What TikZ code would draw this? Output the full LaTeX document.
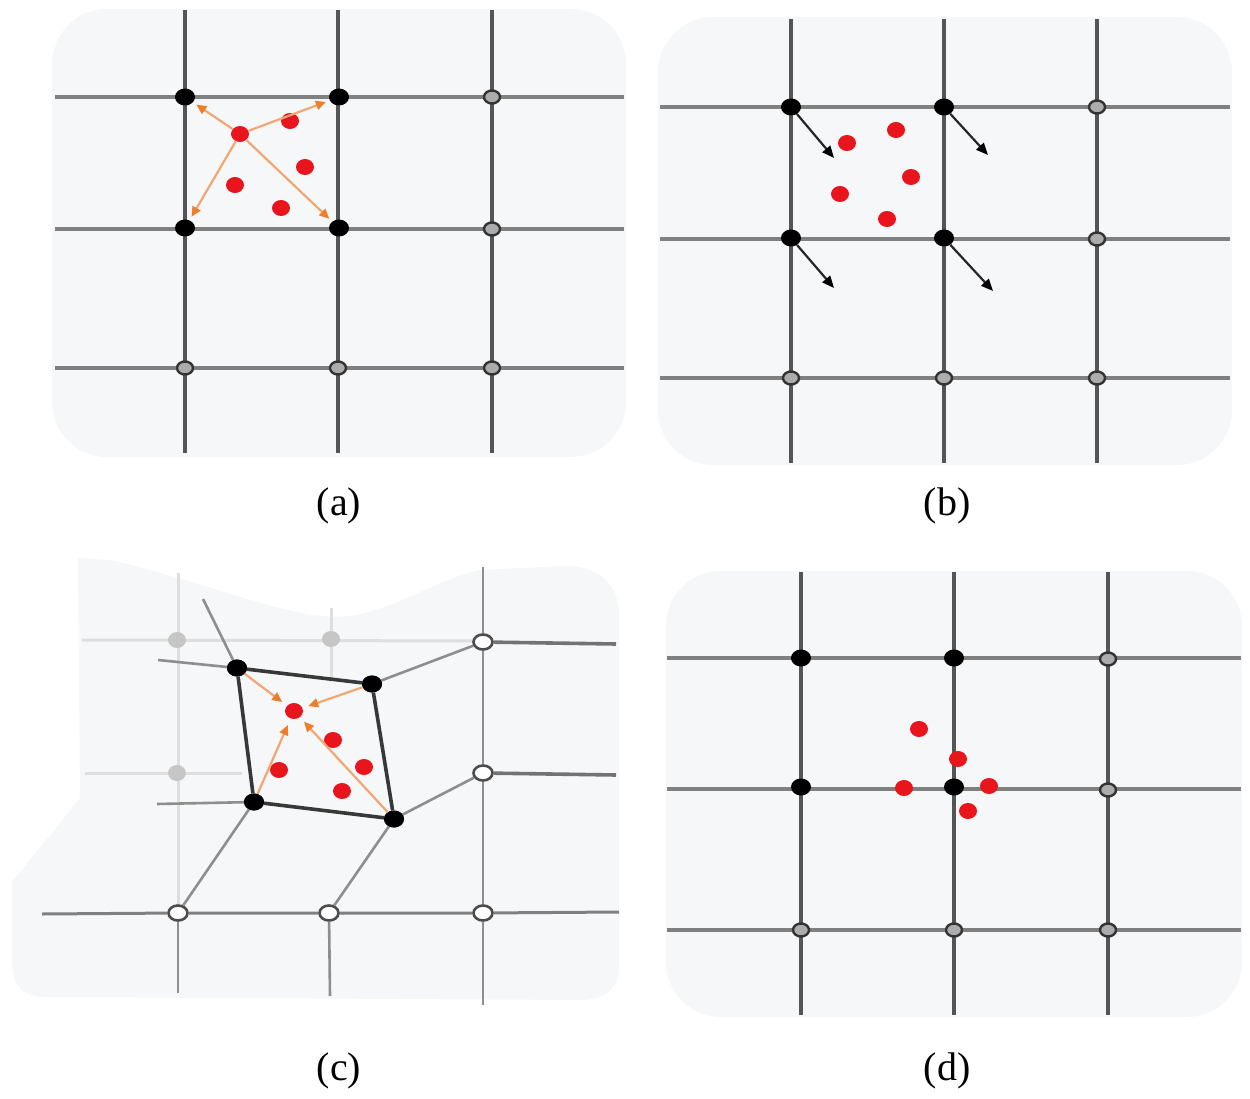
\documentclass[tikz,border=0pt]{standalone}
\usepackage{fontspec}
\setmainfont{Liberation Serif}
\usetikzlibrary{arrows.meta,shapes.geometric}
\definecolor{bgc}{HTML}{F6F7F8}
\definecolor{vgray}{HTML}{555555}
\definecolor{hgray}{HTML}{808080}
\definecolor{dotred}{HTML}{E8161C}
\definecolor{orline}{HTML}{F2A672}
\definecolor{ortip}{HTML}{EE7F2A}
\definecolor{faint}{HTML}{DEDEDE}
\definecolor{faintdot}{HTML}{C6C6C6}
\definecolor{cgray}{HTML}{8E8E8E}
\begin{document}
\begin{tikzpicture}[x=1pt,y=-1pt,
  panelbg/.style={fill=bgc,rounded corners=55pt},
  vline/.style={draw=vgray,line width=3.6pt},
  hline/.style={draw=hgray,line width=3.2pt},
  blk/.style={ellipse,fill=black,minimum width=20pt,minimum height=17pt,inner sep=0pt},
  opn/.style={ellipse,fill=gray!65,draw=black!80,line width=2.4pt,minimum width=16pt,minimum height=13pt,inner sep=0pt},
  opnw/.style={ellipse,fill=white,draw=black!70,line width=2.6pt,minimum width=19pt,minimum height=15pt,inner sep=0pt},
  reddot/.style={ellipse,fill=dotred,minimum width=18pt,minimum height=16pt,inner sep=0pt},
  fdot/.style={ellipse,fill=faintdot,minimum width=18pt,minimum height=16pt,inner sep=0pt},
  orarrow/.style={draw=orline,line width=2.2pt,-{Triangle[length=10pt,width=9pt,color=ortip]}},
  bkarrow/.style={draw=black!85,line width=2.2pt,-{Triangle[length=12pt,width=10pt,color=black]}},
  fline/.style={draw=faint,line width=3pt},
  cline/.style={draw=cgray,line width=2.6pt},
  quad/.style={draw=black!78,line width=3.6pt},
  lab/.style={inner sep=0pt,font=\fontsize{40}{48}\selectfont}
]
\useasboundingbox (0,0) rectangle (1250,1099);

% ---------- backgrounds ----------
\fill[panelbg] (52,9) rectangle (626,457);
\fill[panelbg] (658,17) rectangle (1232,465);
\fill[panelbg] (666,571) rectangle (1242,1017);
\fill[bgc] (78,558) -- (110,560) .. controls (220,585) and (300,625) .. (355,615)
  .. controls (400,607) and (440,578) .. (480,570) -- (565,566)
  .. controls (600,566) and (619,585) .. (619,615) -- (619,965)
  .. controls (619,990) and (605,1000) .. (580,1000) -- (45,997)
  .. controls (22,997) and (12,985) .. (12,960) -- (12,882) -- (80,798) -- cycle;

% ================= panel (a) =================
\foreach \x in {185,338,492} \draw[vline] (\x,10) -- (\x,453);
\foreach \y in {97,229,368} \draw[hline] (55,\y) -- (624,\y);
\node[blk] (a11) at (185,97) {};
\node[blk] (a12) at (339,97) {};
\node[blk] (a21) at (185,228) {};
\node[blk] (a22) at (339,228) {};
\node[opn] (a13) at (492,97) {};
\node[opn] (a23) at (492,229) {};
\node[opn] (a31) at (185,368) {};
\node[opn] (a32) at (338,368) {};
\node[opn] (a33) at (492,368) {};
\node[reddot] (ac) at (240,134) {};
\node[reddot] (ar1) at (290,121) {};
\node[reddot] (ar2) at (305,167) {};
\node[reddot] (ar3) at (235,185) {};
\node[reddot] (ar4) at (281,208) {};
\draw[orarrow,shorten >=4pt] (ac) -- (a11);
\draw[orarrow,shorten >=4pt] (ac) -- (a12);
\draw[orarrow,shorten >=4pt] (ac) -- (a21);
\draw[orarrow,shorten >=4pt] (ac) -- (a22);
\node[lab] (la) at (339,506) {(a)};

% ================= panel (b) =================
\foreach \x in {791,944,1097} \draw[vline] (\x,19) -- (\x,463);
\foreach \y in {107,239,378} \draw[hline] (660,\y) -- (1230,\y);
\node[blk] (b11) at (791,107) {};
\node[blk] (b12) at (944,107) {};
\node[blk] (b21) at (791,238) {};
\node[blk] (b22) at (944,238) {};
\node[opn] (b13) at (1097,107) {};
\node[opn] (b23) at (1097,239) {};
\node[opn] (b31) at (791,378) {};
\node[opn] (b32) at (944,378) {};
\node[opn] (b33) at (1097,378) {};
\node[reddot] (br1) at (847,143) {};
\node[reddot] (br2) at (896,130) {};
\node[reddot] (br3) at (911,177) {};
\node[reddot] (br4) at (840,194) {};
\node[reddot] (br5) at (887,219) {};
\coordinate (bt11) at (834,158);
\coordinate (bt12) at (988,155);
\coordinate (bt21) at (834,288);
\coordinate (bt22) at (993,291);
\draw[bkarrow] (b11) -- (bt11);
\draw[bkarrow] (b12) -- (bt12);
\draw[bkarrow] (b21) -- (bt21);
\draw[bkarrow] (b22) -- (bt22);
\node[lab] (lb) at (947,506) {(b)};

% ================= panel (c) =================
% faint original grid
\draw[fline] (82,640) -- (483,641);
\draw[fline] (85,773) -- (242,773);
\draw[fline] (178,573) -- (178,913);
\draw[fline] (331,608) -- (331,678);
\node[fdot] (cf1) at (177,640) {};
\node[fdot] (cf2) at (331,639) {};
\node[fdot] (cf3) at (177,773) {};
% deformed mesh
\node[blk] (c11) at (237,668) {};
\node[blk] (c12) at (372,684) {};
\node[blk] (c21) at (254,802) {};
\node[blk] (c22) at (394,819) {};
\node[opnw] (c13) at (483,642) {};
\node[opnw] (c23) at (483,773) {};
\node[opnw] (c31) at (178,913) {};
\node[opnw] (c32) at (329,913) {};
\node[opnw] (c33) at (483,913) {};
\coordinate (ce1) at (203,599);
\coordinate (ce2) at (158,660);
\coordinate (ce3) at (157,804);
\coordinate (ce4) at (616,644);
\coordinate (ce5) at (616,775);
\coordinate (ce6) at (42,914);
\coordinate (ce7) at (619,912);
\coordinate (ce8) at (483,567);
\coordinate (ce9) at (483,1005);
\coordinate (ce10) at (178,993);
\coordinate (ce11) at (330,996);
\draw[cline] (ce8) -- (c13) -- (c23) -- (c33) -- (ce9);
\draw[cline] (c31) -- (ce10);
\draw[cline] (c32) -- (ce11);
\draw[draw=black!55,line width=3.6pt] (c13) -- (ce4);
\draw[draw=black!55,line width=3.6pt] (c23) -- (ce5);
\draw[draw=black!50,line width=3pt] (ce6) -- (c31) -- (c32) -- (c33) -- (ce7);
\draw[cline] (ce1) -- (c11);
\draw[cline] (ce2) -- (c11);
\draw[cline] (ce3) -- (c21);
\draw[cline] (c21) -- (c31);
\draw[cline] (c12) -- (c13);
\draw[cline] (c22) -- (c23);
\draw[cline] (c22) -- (c32);
\draw[quad] (c11) -- (c12) -- (c22) -- (c21) -- (c11);
\node[blk] at (c11) {};
\node[blk] at (c12) {};
\node[blk] at (c21) {};
\node[blk] at (c22) {};
\node[reddot] (cc) at (294,711) {};
\node[reddot] (cr1) at (333,740) {};
\node[reddot] (cr2) at (364,767) {};
\node[reddot] (cr3) at (279,770) {};
\node[reddot] (cr4) at (342,791) {};
\draw[orarrow,shorten >=6pt] (c11) -- (cc);
\draw[orarrow,shorten >=6pt] (c12) -- (cc);
\draw[orarrow,shorten >=7pt] (c21) -- (cc);
\draw[orarrow,shorten >=6pt] (c22) -- (cc);
\node[lab] (lc) at (339,1071) {(c)};

% ================= panel (d) =================
\foreach \x in {801,954,1108} \draw[vline] (\x,572) -- (\x,1015);
\foreach \y in {658,789,930} \draw[hline] (667,\y) -- (1241,\y);
\node[blk] (d11) at (801,658) {};
\node[blk] (d12) at (954,658) {};
\node[blk] (d21) at (801,787) {};
\node[blk] (d22) at (954,787) {};
\node[opn] (d13) at (1108,659) {};
\node[opn] (d23) at (1108,790) {};
\node[opn] (d31) at (801,930) {};
\node[opn] (d32) at (954,930) {};
\node[opn] (d33) at (1108,930) {};
\node[reddot] (dr1) at (919,729) {};
\node[reddot] (dr2) at (958,759) {};
\node[reddot] (dr3) at (904,788) {};
\node[reddot] (dr4) at (989,786) {};
\node[reddot] (dr5) at (968,811) {};
\node[lab] (ld) at (947,1071) {(d)};
\end{tikzpicture}
\end{document}
